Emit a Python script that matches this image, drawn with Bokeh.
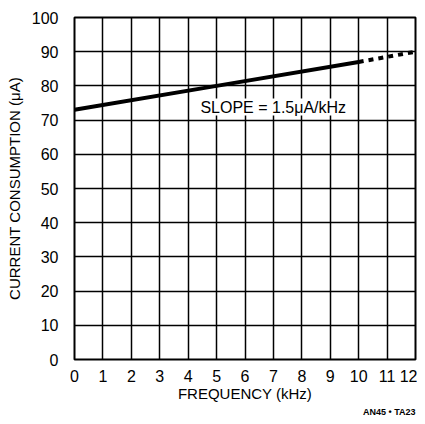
from bokeh.plotting import figure
from bokeh.models import Label, FixedTicker, Range1d, Title
from bokeh.embed import file_html
from bokeh.resources import INLINE

# data
freq_solid = [0, 5, 10]
current_solid = [73, 80, 87]
freq_dash = [10, 12]
current_dash = [87, 90]
x_ticks = list(range(0, 13))
y_ticks = list(range(0, 101, 10))

FONT = "Liberation Sans"

p = figure(width=417, height=416, output_backend="svg", toolbar_location=None,
           x_range=Range1d(0, 12), y_range=Range1d(0, 100))
p.min_border_left = 74
p.min_border_top = 17
p.min_border_right = 2
p.min_border_bottom = 56
p.background_fill_color = "white"
p.border_fill_color = "white"
p.outline_line_color = "black"
p.outline_line_width = 2

for ax in (p.xaxis[0], p.yaxis[0]):
    ax.axis_line_color = None
    ax.major_tick_line_color = None
    ax.minor_tick_line_color = None
    ax.major_label_text_font = FONT
    ax.major_label_text_font_size = "16px"
    ax.major_label_text_color = "black"
    ax.axis_label_text_font = FONT
    ax.axis_label_text_font_style = "normal"
    ax.axis_label_text_font_size = "15px"
    ax.axis_label_text_color = "black"

p.xaxis.ticker = FixedTicker(ticks=x_ticks)
p.yaxis.ticker = FixedTicker(ticks=y_ticks)
p.xaxis.major_label_standoff = 4
p.yaxis.major_label_standoff = 10
p.xaxis.axis_label = "FREQUENCY (kHz)"
p.yaxis.axis_label = "CURRENT CONSUMPTION (\u03bcA)"
p.xaxis.axis_label_standoff = 0
p.yaxis.axis_label_standoff = 6

p.xgrid.grid_line_color = "black"
p.ygrid.grid_line_color = "black"
p.xgrid.grid_line_width = 1.5
p.ygrid.grid_line_width = 1.5
p.xgrid.grid_line_alpha = 1
p.ygrid.grid_line_alpha = 1

p.add_layout(Label(x=4.43, y=73.8, text="SLOPE = 1.5\u03bcA/kHz", text_font=FONT,
                   text_font_size="16px", text_color="black", text_baseline="middle",
                   background_fill_color="white", background_fill_alpha=1))

p.line(freq_solid, current_solid, line_color="black", line_width=4)
p.line(freq_dash, current_dash, line_color="black", line_width=4, line_dash="5 5")

p.add_layout(Title(text="AN45 \u2022 TA23", align="right", text_font=FONT,
                   text_font_size="9px", text_font_style="bold", text_color="black",
                   standoff=0), "below")

open("out.html", "w").write(file_html(p, INLINE))
